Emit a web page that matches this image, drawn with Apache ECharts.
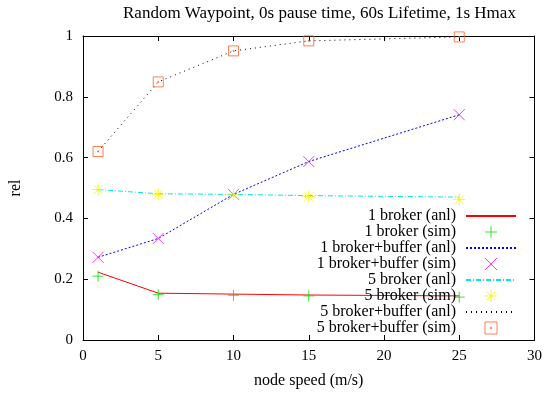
<!DOCTYPE html>
<html>
<head>
<meta charset="utf-8">
<script src="https://cdn.jsdelivr.net/npm/echarts@6/dist/echarts.min.js"></script>
<style>
  html, body { margin: 0; padding: 0; background: #fff; }
  #chart { width: 545px; height: 394px; }
</style>
</head>
<body>
<div id="chart"></div>
<script>
// Node speeds (m/s) at which each configuration was evaluated
const speeds = [1, 5, 10, 15, 25];

// Reliability values, analytical model vs. simulation
const broker1Anl    = [0.223, 0.154, 0.151, 0.148, 0.145];
const broker1Sim    = [0.210, 0.149, 0.147, 0.145, 0.141];
const broker1BufAnl = [0.272, 0.334, 0.479, 0.587, 0.741];
const broker1BufSim = [0.272, 0.334, 0.479, 0.587, 0.741];
const broker5Anl    = [0.495, 0.481, 0.479, 0.475, 0.470];
const broker5Sim    = [0.495, 0.479, 0.477, 0.472, 0.462];
const broker5BufAnl = [0.620, 0.849, 0.951, 0.984, 0.997];
const broker5BufSim = [0.620, 0.849, 0.951, 0.984, 0.997];

// Axis ranges: [min, max, step]
const xRange = [0, 30, 5];
const yRange = [0, 1, 0.2];

const seriesNames = [
  '1 broker (anl)', '1 broker (sim)',
  '1 broker+buffer (anl)', '1 broker+buffer (sim)',
  '5 broker (anl)', '5 broker (sim)',
  '5 broker+buffer (anl)', '5 broker+buffer (sim)'
];

const FONT = '"Liberation Serif", "DejaVu Serif", serif';
const CLEAR = 'rgba(0,0,0,0)';

const pts = ys => speeds.map((x, i) => [x, ys[i]]);

// Point glyphs drawn as stroked paths
const PLUS   = 'path://M0,5L10,5M5,0L5,10';
const CROSS  = 'path://M0,0L10,10M10,0L0,10';
const STAR   = 'path://M0,5L10,5M5,0L5,10M1.5,1.5L8.5,8.5M8.5,1.5L1.5,8.5';
const SQUARE = 'path://M0,0L10,0L10,10L0,10ZM4.5,4.5L5.5,4.5L5.5,5.5L4.5,5.5Z';

// Analytical curves: plain lines; the (hidden) symbol is transparent so the
// legend shows only the line sample
function lineSeries(name, ys, color, type) {
  return {
    name, type: 'line', data: pts(ys),
    symbol: 'circle', showSymbol: false,
    lineStyle: { color, width: 1, type },
    itemStyle: { color: CLEAR, borderColor: CLEAR, borderWidth: 0 },
    emphasis: { disabled: true },
    animation: false, z: 2
  };
}
// Simulation results: point glyphs only
function pointSeries(name, ys, color, symbol, size) {
  return {
    name, type: 'scatter', data: pts(ys), symbol, symbolSize: size,
    itemStyle: { color: CLEAR, borderColor: color, borderWidth: 1 },
    emphasis: { disabled: true },
    animation: false, z: 3
  };
}

const axisCommon = {
  type: 'value',
  axisLine: { show: true, onZero: false, lineStyle: { color: '#000', width: 1 } },
  axisTick: { show: true, inside: true, length: 5, lineStyle: { color: '#000' } },
  splitLine: { show: false }
};

const chart = echarts.init(document.getElementById('chart'), null, { renderer: 'canvas' });
chart.setOption({
  backgroundColor: '#fff',
  animation: false,
  title: {
    text: 'Random Waypoint, 0s pause time, 60s Lifetime, 1s Hmax',
    left: 123, top: 5, padding: 0,
    textStyle: { fontFamily: FONT, fontSize: 17, fontWeight: 'normal', color: '#000' }
  },
  grid: { left: 81, right: 10, top: 36, bottom: 53 },
  xAxis: [
    Object.assign({}, axisCommon, {
      min: xRange[0], max: xRange[1], interval: xRange[2], position: 'bottom',
      name: 'node speed (m/s)', nameLocation: 'middle', nameGap: 33,
      nameTextStyle: { fontFamily: FONT, fontSize: 16, color: '#000' },
      axisLabel: { margin: 9, fontFamily: FONT, fontSize: 15, color: '#000' }
    }),
    Object.assign({}, axisCommon, {
      min: xRange[0], max: xRange[1], interval: xRange[2], position: 'top',
      axisLabel: { show: false }
    })
  ],
  yAxis: [
    Object.assign({}, axisCommon, {
      min: yRange[0], max: yRange[1], interval: yRange[2], position: 'left',
      name: 'rel', nameLocation: 'middle', nameGap: 59, nameRotate: 90,
      nameTextStyle: { fontFamily: FONT, fontSize: 16, color: '#000' },
      axisLabel: { margin: 10, fontFamily: FONT, fontSize: 15, color: '#000' }
    }),
    Object.assign({}, axisCommon, {
      min: yRange[0], max: yRange[1], interval: yRange[2], position: 'right',
      axisLabel: { show: false }
    })
  ],
  legend: {
    orient: 'vertical', align: 'right',
    right: 28, top: 208, padding: 0,
    itemWidth: 50, itemHeight: 12, itemGap: 0,
    data: seriesNames,
    selectedMode: false,
    itemStyle: { borderWidth: 1 },
    textStyle: { fontFamily: FONT, fontSize: 16, lineHeight: 16, color: '#000', padding: [0, 5, 0, 0] }
  },
  series: [
    lineSeries(seriesNames[0], broker1Anl, '#ff0000', 'solid'),
    pointSeries(seriesNames[1], broker1Sim, '#00e000', PLUS, 11),
    lineSeries(seriesNames[2], broker1BufAnl, '#0000ff', [2, 2]),
    pointSeries(seriesNames[3], broker1BufSim, '#ff00ff', CROSS, 11),
    lineSeries(seriesNames[4], broker5Anl, '#00e8e8', [5, 2, 1, 2]),
    pointSeries(seriesNames[5], broker5Sim, '#f4f400', STAR, 12),
    lineSeries(seriesNames[6], broker5BufAnl, '#000000', [1, 4]),
    pointSeries(seriesNames[7], broker5BufSim, '#ff6028', SQUARE, 10)
  ]
});
</script>
</body>
</html>
